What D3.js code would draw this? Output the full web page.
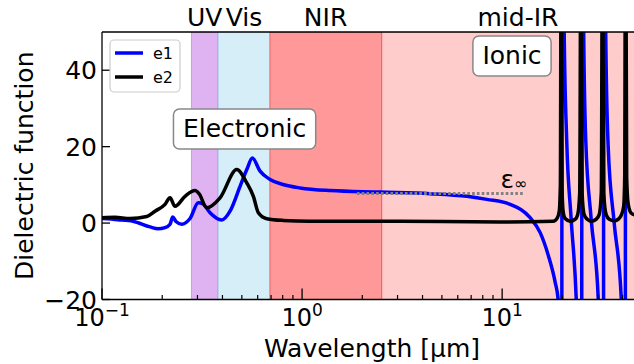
<!DOCTYPE html>
<html>
<head>
<meta charset="utf-8">
<script src="https://cdn.jsdelivr.net/npm/d3@7"></script>
<style>
	body { margin: 0; background: #fff; }
	svg text { font-family: "DejaVu Sans", sans-serif; fill: #000; }
</style>
</head>
<body>
<div id="chart"></div>
<script>
// spectral regions (µm)
const bandNames = ["UV", "Vis", "NIR", "mid-IR"];
const bandStart = [0.28, 0.38, 0.69, 2.5];
const bandEnd = [0.38, 0.69, 2.5, 50];
const bandLabelAt = [0.326, 0.512, 1.31, 12];
const bandColors = ["rgba(148,0,211,0.3)", "rgba(135,206,235,0.35)", "rgba(255,0,0,0.4)", "rgba(255,0,0,0.2)"];

const e1Wavelength = [0.1, 0.12, 0.1429, 0.1738, 0.1905, 0.2065, 0.2188, 0.2257, 0.2344, 0.2503,
	0.2754, 0.303, 0.3199, 0.3467, 0.3968, 0.4365, 0.4898, 0.5292, 0.5645, 0.6166,
	0.6918, 0.8035, 0.977, 1.38, 2.455, 4.365, 6.66, 8.385, 10.96, 13.8,
	15.49, 17.04, 18.41, 19.05, 19.39, 19.67, 19.84, 19.93, 20.42, 21.01,
	22.13, 23.44, 24.27, 24.95, 25.06, 25.56, 26.16, 27.86, 30.2, 31.26,
	32.06, 32.21, 32.93, 33.88, 36.31, 39.36, 40.51, 41.21, 41.4, 45.7, 50];
const e1Values = [1.2, 0.9, 0.5, -1.0, -1.5, -1.2, -0.3, 1.6, 0.4, -0.3,
	1.2, 5.3, 5.0, 2.7, 0.8, 3.1, 9.6, 14.0, 17.0, 13.6,
	11.4, 10.1, 9.2, 8.5, 8.1, 7.7, 7.0, 6.2, 4.9, 1.4,
	-2.5, -8.6, -15.5, -20, -30, -70, -300, 300, 50, 22,
	1, -19.5, -45, -300, 300, 50, 22, 1, -19.5, -45,
	-300, 300, 50, 20, 0, -19.5, -45, -300, 300, 80, 60];

// e2, imaginary part
const e2Wavelength = [0.1, 0.1161, 0.138, 0.1674, 0.1841, 0.2065, 0.2188, 0.2317, 0.26, 0.2917,
	0.3055, 0.3338, 0.389, 0.4716, 0.5292, 0.571, 0.6047, 0.666, 0.8035, 1.096,
	3.09, 9.77, 17.99, 18.84, 19.28, 19.54, 19.72, 19.91, 20.18, 20.65,
	21.88, 23.17, 23.85, 24.41, 24.76, 25.09, 25.7, 26.61, 27.86, 29.51,
	30.55, 31.3, 31.73, 32.17, 33.11, 34.28, 36.31, 38.02, 39.36, 40.51,
	40.97, 41.46, 41.93, 42.66, 44.16, 45.7, 50];
const e2Values = [1.4, 1.5, 1.2, 1.7, 3.1, 4.9, 6.6, 4.4, 7.0, 8.5,
	7.7, 4.0, 6.6, 14.0, 10.5, 7.0, 2.7, 1.15, 0.7, 0.5,
	0.45, 0.3, 0.45, 1.3, 3.0, 10, 80, 10, 3.0, 1.2,
	0.5, 1.0, 2.2, 8, 80, 8, 2.2, 1.0, 0.5, 1.0,
	2.2, 8, 80, 8, 2.2, 1.0, 0.6, 1.0, 2.0, 4.5,
	12, 80, 12, 5, 2.6, 2.2, 1.5];

// eps infinity marker
const epsInfRange = [1.88, 13.0];
const epsInfValue = 7.75;

const yTicks = [-20, 0, 20, 40];
const xMajorTicks = [0.1, 1, 10];
const xTickExp = ["\u22121", "0", "1"];


// SVG DIMENSIONS
const width = 634;
const height = 364;
const mLeft = 102, mRight = 642, mTop = 32, mBottom = 299.5;

const svg = d3.select("#chart")
	.append("svg")
	.attr("width", width)
	.attr("height", height);

const x = d3.scaleLog().domain([0.1, 50]).range([mLeft, mRight]);
const y = d3.scaleLinear().domain([-20, 50]).range([mBottom, mTop]);

svg.append("clipPath")
	.attr("id", "plot-clip")
	.append("rect")
		.attr("x", mLeft).attr("y", mTop)
		.attr("width", mRight - mLeft).attr("height", mBottom - mTop);

const plot = svg.append("g").attr("clip-path", "url(#plot-clip)");

// bands
plot.append("g")
	.selectAll("rect")
	.data(bandNames)
	.enter()
	.append("rect")
		.attr("x", (d, i) => x(bandStart[i]))
		.attr("y", mTop)
		.attr("width", (d, i) => x(bandEnd[i]) - x(bandStart[i]))
		.attr("height", mBottom - mTop)
		.attr("fill", (d, i) => bandColors[i])
		.attr("stroke", (d, i) => bandColors[i])
		.attr("stroke-width", 1);

// curves
const line = d3.line()
	.x(d => x(d[0]))
	.y(d => y(Math.max(-400, Math.min(400, d[1]))))
	.curve(d3.curveMonotoneX);

const e1 = e1Wavelength.map((w, i) => [w, e1Values[i]]);
const e2 = e2Wavelength.map((w, i) => [w, e2Values[i]]);

plot.append("path")
	.attr("d", line(e1))
	.attr("fill", "none")
	.attr("stroke", "#0000ff")
	.attr("stroke-width", 3.5)
	.attr("stroke-linejoin", "round");

plot.append("path")
	.attr("d", line(e2))
	.attr("fill", "none")
	.attr("stroke", "#000")
	.attr("stroke-width", 3.5)
	.attr("stroke-linejoin", "round");

// eps infinity dotted line
plot.append("line")
	.attr("x1", x(epsInfRange[0])).attr("x2", x(epsInfRange[1]))
	.attr("y1", y(epsInfValue)).attr("y2", y(epsInfValue))
	.attr("stroke", "#808080")
	.attr("stroke-width", 3)
	.attr("stroke-dasharray", "2.6 2.2");

const eps = svg.append("text")
	.attr("x", x(9.8))
	.attr("y", y(9.2))
	.attr("font-size", 25);
eps.append("tspan").text("\u03b5");
eps.append("tspan").attr("font-size", 16).attr("dy", 1).text("\u221e");


// AXES
// spines
svg.append("line")
	.attr("x1", mLeft).attr("x2", mLeft).attr("y1", mTop).attr("y2", mBottom)
	.attr("stroke", "#000").attr("stroke-width", 1.3);
svg.append("line")
	.attr("x1", mLeft).attr("x2", mRight).attr("y1", mBottom).attr("y2", mBottom)
	.attr("stroke", "#000").attr("stroke-width", 1.3);
svg.append("line")
	.attr("x1", mLeft).attr("x2", mRight).attr("y1", mTop).attr("y2", mTop)
	.attr("stroke", "#000").attr("stroke-width", 1.3);

// y ticks
svg.append("g")
	.selectAll("line")
	.data(yTicks)
	.enter()
	.append("line")
		.attr("x1", mLeft).attr("x2", mLeft + 8)
		.attr("y1", d => y(d)).attr("y2", d => y(d))
		.attr("stroke", "#000").attr("stroke-width", 1.3);
svg.append("g")
	.selectAll("text")
	.data(yTicks)
	.enter()
	.append("text")
		.attr("x", mLeft - 5)
		.attr("y", d => y(d) + 9)
		.attr("text-anchor", "end")
		.attr("font-size", 25)
		.text(d => d < 0 ? "\u2212" + Math.abs(d) : d);

// x ticks
const minorTicks = x.ticks().filter(t => xMajorTicks.indexOf(t) < 0 && t < 50);
svg.append("g")
	.selectAll("line")
	.data(minorTicks)
	.enter()
	.append("line")
		.attr("x1", d => x(d)).attr("x2", d => x(d))
		.attr("y1", mBottom).attr("y2", mBottom - 4.5)
		.attr("stroke", "#000").attr("stroke-width", 1.2);
svg.append("g")
	.selectAll("line")
	.data(xMajorTicks)
	.enter()
	.append("line")
		.attr("x1", d => x(d)).attr("x2", d => x(d))
		.attr("y1", mBottom).attr("y2", mBottom - 11)
		.attr("stroke", "#000").attr("stroke-width", 1.3);
const xLabels = svg.append("g")
	.selectAll("text")
	.data(xMajorTicks)
	.enter()
	.append("text")
		.attr("x", d => x(d))
		.attr("y", 326)
		.attr("text-anchor", "middle")
		.attr("font-size", 24);
xLabels.append("tspan").text("10");
xLabels.append("tspan")
	.attr("font-size", 17)
	.attr("dy", -10)
	.text((d, i) => xTickExp[i]);

// axis titles
svg.append("text")
	.attr("x", (mLeft + mRight) / 2)
	.attr("y", 357)
	.attr("text-anchor", "middle")
	.attr("font-size", 25)
	.text("Wavelength [\u03bcm]");
svg.append("text")
	.attr("transform", `translate(33,${(mTop + mBottom) / 2}) rotate(-90)`)
	.attr("text-anchor", "middle")
	.attr("font-size", 25)
	.text("Dielectric function");

// band labels
svg.append("g")
	.selectAll("text")
	.data(bandNames)
	.enter()
	.append("text")
		.attr("x", (d, i) => x(bandLabelAt[i]))
		.attr("y", 26)
		.attr("text-anchor", "middle")
		.attr("font-size", 25)
		.text(d => d);


// BOXED ANNOTATIONS
function boxLabel(txt, lx, ly) {
	const g = svg.append("g");
	const rect = g.append("rect");
	const t = g.append("text")
		.attr("x", x(lx))
		.attr("y", y(ly))
		.attr("text-anchor", "middle")
		.attr("font-size", 25)
		.text(txt);
	const bb = t.node().getBBox();
	rect.attr("x", bb.x - 9.5)
		.attr("y", bb.y - 5.5)
		.attr("width", bb.width + 19)
		.attr("height", bb.height + 11)
		.attr("rx", 6)
		.attr("fill", "#fff")
		.attr("stroke", "#888")
		.attr("stroke-width", 1.5);
}
boxLabel("Electronic", 0.516, 22.4);
boxLabel("Ionic", 11.2, 41.5);


// LEGEND
const legend = svg.append("g");
legend.append("rect")
	.attr("x", 110).attr("y", 40)
	.attr("width", 70).attr("height", 52)
	.attr("rx", 4)
	.attr("fill", "#fff").attr("fill-opacity", 0.8)
	.attr("stroke", "#ccc").attr("stroke-width", 1.2);
[["e1", "#0000ff"], ["e2", "#000"]].forEach((d, i) => {
	legend.append("line")
		.attr("x1", 115).attr("x2", 143)
		.attr("y1", 53 + i * 24).attr("y2", 53 + i * 24)
		.attr("stroke", d[1]).attr("stroke-width", 3.5);
	legend.append("text")
		.attr("x", 153)
		.attr("y", 59 + i * 24)
		.attr("font-size", 16)
		.text(d[0]);
});
</script>
</body>
</html>
